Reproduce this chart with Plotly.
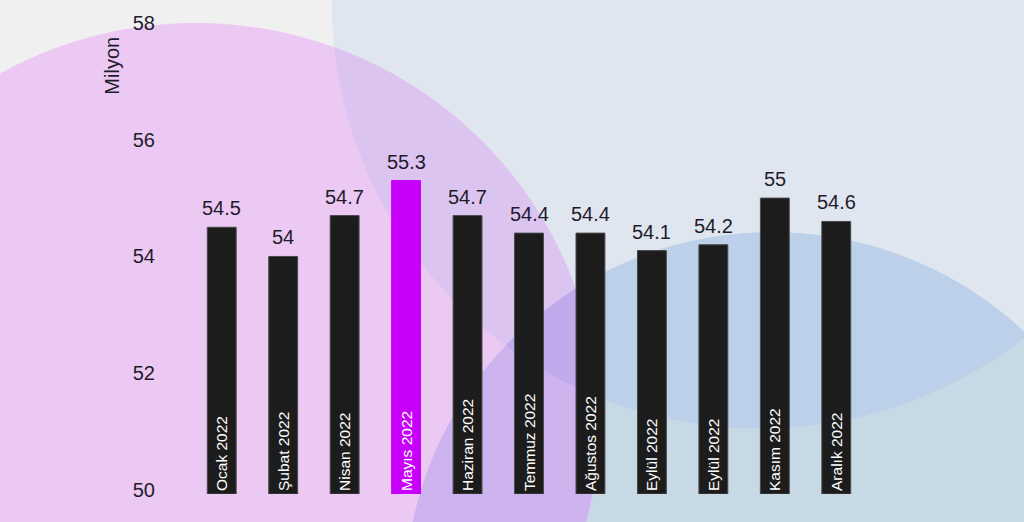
import math
import plotly.graph_objects as go

# ---------------- data ----------------
months = ["Ocak 2022", "Şubat 2022", "Nisan 2022", "Mayıs 2022", "Haziran 2022",
          "Temmuz 2022", "Ağustos 2022", "Eylül 2022", "Eylül 2022", "Kasım 2022",
          "Aralık 2022"]
values = [54.5, 54, 54.7, 55.3, 54.7, 54.4, 54.4, 54.1, 54.2, 55, 54.6]
value_labels = ["54.5", "54", "54.7", "55.3", "54.7", "54.4", "54.4", "54.1",
                "54.2", "55", "54.6"]
highlight_index = 3
y_ticks = [50, 52, 54, 56, 58]
y_min, y_max = 49.93, 58
unit_label = "Milyon"

# ---------------- layout geometry (pixels) ----------------
FIG_W, FIG_H = 1024, 522
L, R, T, B = 191, 867, 19, 494
PW, PH = R - L, B - T

FONT = "Liberation Sans, Arial, sans-serif"
TEXT_COLOR = "#1f1b2c"


def to_paper(pt):
    x, y = pt
    return ((x - L) / PW, (B - y) / PH)


def circle_poly(cx, cy, r, n=360):
    return [(cx + r * math.cos(2 * math.pi * k / n), cy + r * math.sin(2 * math.pi * k / n))
            for k in range(n)]


def clip(subject, clipper):
    def inside(p, a, b):
        return (b[0] - a[0]) * (p[1] - a[1]) - (b[1] - a[1]) * (p[0] - a[0]) >= 0

    def inter(s, e, a, b):
        x1, y1 = s
        x2, y2 = e
        x3, y3 = a
        x4, y4 = b
        den = (x1 - x2) * (y3 - y4) - (y1 - y2) * (x3 - x4)
        t = ((x1 - x3) * (y3 - y4) - (y1 - y3) * (x3 - x4)) / den
        return (x1 + t * (x2 - x1), y1 + t * (y2 - y1))

    out = subject
    n = len(clipper)
    for i in range(n):
        a, b = clipper[i], clipper[(i + 1) % n]
        inp = out
        out = []
        if not inp:
            break
        s = inp[-1]
        for e in inp:
            if inside(e, a, b):
                if not inside(s, a, b):
                    out.append(inter(s, e, a, b))
                out.append(e)
            elif inside(s, a, b):
                out.append(inter(s, e, a, b))
            s = e
    return out


def path_of(poly):
    pts = [to_paper(p) for p in poly]
    return "M " + " L ".join(f"{x:.5f},{y:.5f}" for x, y in pts) + " Z"


# decorative circles (pixel centres / radii)
C1 = circle_poly(196, 422, 403)   # pink
C2 = circle_poly(760, 0, 428)     # light blue-grey
C3 = circle_poly(772, 597, 367)   # blue

regions = [
    (C2, "#e0e6f0"),
    (C3, "#c8d9e6"),
    (clip(C3, C2), "#bcd0e9"),
    (C1, "#ecc9f3"),
    (clip(C1, C2), "#dcc4f1"),
    (clip(C1, C3), "#cdb4ee"),
    (clip(clip(C1, C2), C3), "#c0aaec"),
]

shapes = [dict(type="path", xref="paper", yref="paper", path=path_of(p),
               fillcolor=c, line=dict(width=0), layer="below")
          for p, c in regions if p]

idx = list(range(len(months)))
bar_colors = ["#c700fa" if i == highlight_index else "#1c1c1c" for i in idx]
line_colors = ["#c700fa" if i == highlight_index else "#4a4a4a" for i in idx]

fig = go.Figure()
fig.add_trace(go.Bar(
    x=idx,
    y=[v - y_min for v in values],
    base=y_min,
    width=0.47,
    marker=dict(color=bar_colors, line=dict(color=line_colors, width=1)),
    text=months,
    textposition="inside",
    insidetextanchor="start",
    textangle=-90,
    textfont=dict(color="white", size=15.5, family=FONT),
    hoverinfo="skip",
    cliponaxis=False,
))

annotations = [dict(x=i, y=v, xref="x", yref="y", text=lab, showarrow=False,
                    yanchor="bottom", xanchor="center", yshift=6,
                    font=dict(size=20, color=TEXT_COLOR, family=FONT))
               for i, v, lab in zip(idx, values, value_labels)]
annotations.append(dict(xref="paper", yref="paper", x=(112 - L) / PW, y=(B - 62) / PH,
                        text=unit_label, showarrow=False, textangle=-90,
                        xanchor="center", yanchor="middle",
                        font=dict(size=20, color=TEXT_COLOR, family=FONT)))

fig.update_layout(
    width=FIG_W, height=FIG_H, autosize=False,
    margin=dict(l=L, r=FIG_W - R, t=T, b=FIG_H - B, pad=0),
    paper_bgcolor="#f0f0f0",
    plot_bgcolor="rgba(0,0,0,0)",
    showlegend=False,
    shapes=shapes,
    annotations=annotations,
    xaxis=dict(range=[-0.5, len(months) - 0.5], showticklabels=False, showgrid=False,
               zeroline=False, showline=False, ticks=""),
    yaxis=dict(range=[y_min, y_max], tickvals=y_ticks, ticktext=[str(t) for t in y_ticks],
               showgrid=False, zeroline=False, showline=False, ticks="",
               ticklabelstandoff=35,
               tickfont=dict(size=20, color=TEXT_COLOR, family=FONT)),
    font=dict(family=FONT),
)

fig.write_html("out.html", config={"displayModeBar": False},
               post_script="document.body.style.margin='0';document.body.style.overflow='hidden';")
